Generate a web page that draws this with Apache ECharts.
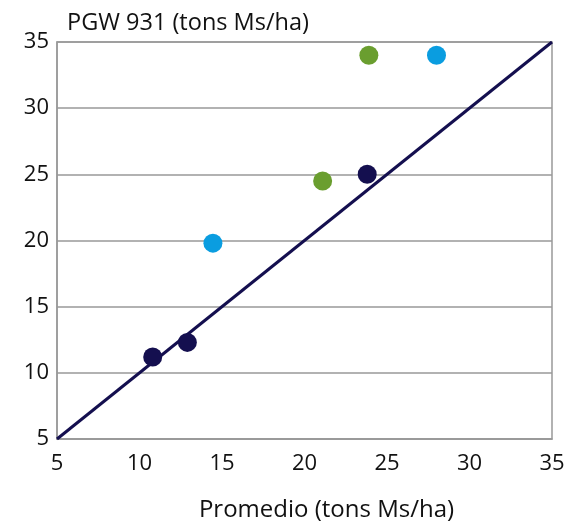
<!DOCTYPE html>
<html><head><meta charset="utf-8">
<script src="https://cdn.jsdelivr.net/npm/echarts@6/dist/echarts.min.js"></script>
<style>html,body{margin:0;padding:0;background:#fff}#c{width:570px;height:523px}</style>
</head><body><div id="c"></div>
<script>
var navyPts = [[10.8, 11.2], [12.9, 12.3], [23.8, 25.0]];
var greenPts = [[21.1, 24.5], [23.9, 34.0]];
var bluePts = [[14.45, 19.8], [28.0, 34.0]];
var refLine = [[5, 5], [35, 35]];
var xTitle = 'Promedio (tons Ms/ha)';
var yTitle = 'PGW 931 (tons Ms/ha)';
var font = 'Open Sans';
var chart = echarts.init(document.getElementById('c'));
chart.setOption({
  animation: false,
  textStyle: {fontFamily: font},
  title: {text: yTitle, left: 62, top: 6, textStyle: {fontFamily: font, fontSize: 23.5, fontWeight: 'normal', color: '#111'}},
  grid: {left: 57, right: 18, top: 42, bottom: 84, show: true, borderColor: '#999', borderWidth: 1.5, containLabel: false, outerBoundsMode: 'none'},
  xAxis: {type: 'value', min: 5, max: 35, interval: 5,
    name: xTitle, nameLocation: 'middle', nameGap: 59,
    nameTextStyle: {fontFamily: font, fontSize: 24, color: '#111', padding: [0, 0, 0, 44]},
    axisLine: {show: true, lineStyle: {color: '#999', width: 1.5}}, axisTick: {show: false},
    axisLabel: {fontFamily: font, fontSize: 22, color: '#111', margin: 14},
    splitLine: {show: false}},
  yAxis: {type: 'value', min: 5, max: 35, interval: 5,
    axisLine: {show: true, lineStyle: {color: '#999', width: 1.5}}, axisTick: {show: false},
    axisLabel: {fontFamily: font, fontSize: 22, color: '#111', margin: 8},
    splitLine: {show: true, lineStyle: {color: '#999', width: 1.5}}},
  series: [
    {type: 'line', data: refLine, symbol: 'none', lineStyle: {color: '#140f4f', width: 3}, z: 2},
    {type: 'scatter', data: navyPts, symbolSize: 19, itemStyle: {color: '#140f4f', opacity: 1}, z: 3},
    {type: 'scatter', data: greenPts, symbolSize: 19, itemStyle: {color: '#6a9e2f', opacity: 1}, z: 3},
    {type: 'scatter', data: bluePts, symbolSize: 19, itemStyle: {color: '#0a9de0', opacity: 1}, z: 3}
  ]
});
</script></body></html>
